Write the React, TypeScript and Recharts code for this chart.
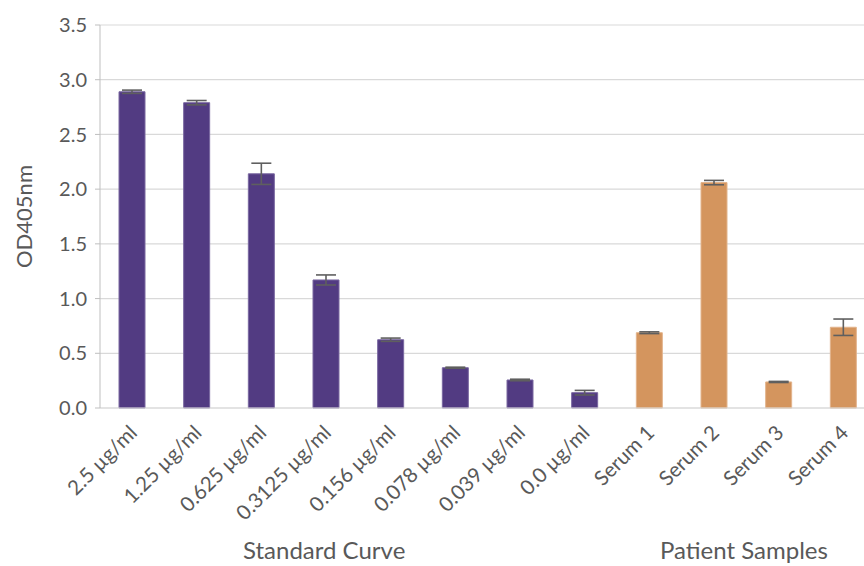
import React from "react";
import { BarChart, Bar, XAxis, YAxis, CartesianGrid, ErrorBar, Cell } from "recharts";

const categories = [
  "2.5 µg/ml", "1.25 µg/ml", "0.625 µg/ml", "0.3125 µg/ml", "0.156 µg/ml", "0.078 µg/ml",
  "0.039 µg/ml", "0.0 µg/ml", "Serum 1", "Serum 2", "Serum 3", "Serum 4",
];
const values = [2.89, 2.79, 2.14, 1.17, 0.624, 0.368, 0.256, 0.14, 0.688, 2.06, 0.238, 0.738];
const errors = [0.015, 0.02, 0.097, 0.046, 0.015, 0.005, 0.007, 0.021, 0.008, 0.02, 0.005, 0.075];
const groups = ["std", "std", "std", "std", "std", "std", "std", "std", "pat", "pat", "pat", "pat"];
const yTicks = [0, 0.5, 1.0, 1.5, 2.0, 2.5, 3.0, 3.5];
const groupLabels = ["Standard Curve", "Patient Samples"];

const colors: Record<string, string> = { std: "#523b82", pat: "#d4955e" };
const strokes: Record<string, string> = { std: "#7a68a0", pat: "#e2b48c" };

const data = categories.map((c, i) => ({ name: c, value: values[i], err: errors[i], group: groups[i] }));

const FONT = "Lato, 'Open Sans', sans-serif";
const TEXT = "#595959";

const XTick = (props: any) => {
  const { x, y, payload } = props;
  return (
    <g transform={`translate(${x + 6},${y + 18})`}>
      <text textAnchor="end" transform="rotate(-45)" fill={TEXT} fontSize={20.5} fontFamily={FONT}>
        {payload.value}
      </text>
    </g>
  );
};

export default function App() {
  return (
    <div style={{ position: "absolute", left: 0, top: 0, width: 864, height: 566, overflow: "hidden", background: "#fff" }}>
      <BarChart
        width={880}
        height={566}
        data={data}
        margin={{ top: 25, right: 4, left: 40, bottom: 0 }}
        barSize={26}
      >
        <CartesianGrid vertical={false} stroke="#d9d9d9" strokeWidth={1.2} />
        <XAxis
          dataKey="name"
          height={158}
          interval={0}
          tickLine={false}
          axisLine={{ stroke: "#d9d9d9", strokeWidth: 1.2 }}
          tick={<XTick />}
        />
        <YAxis
          width={60}
          domain={[0, 3.5]}
          ticks={yTicks}
          tickFormatter={(v: number) => v.toFixed(1)}
          axisLine={{ stroke: "#bfbfbf" }}
          tickLine={{ stroke: "#bfbfbf" }}
          tickSize={5}
          tickMargin={8}
          tick={{ fill: TEXT, fontSize: 20, fontFamily: FONT }}
          label={{ value: "OD405nm", angle: -90, position: "insideLeft", offset: -16, dy: 0, style: { fill: TEXT, fontSize: 22, fontFamily: FONT, textAnchor: "middle" } }}
        />
        <Bar dataKey="value" isAnimationActive={false} strokeWidth={1}>
          {data.map((d, i) => (
            <Cell key={i} fill={colors[d.group]} stroke={strokes[d.group]} />
          ))}
          <ErrorBar dataKey="err" width={10} stroke="#5f5f5f" strokeWidth={1.6} direction="y" />
        </Bar>
      </BarChart>
      <div style={{ position: "absolute", left: 243, top: 535, fontFamily: FONT, fontSize: 24, color: TEXT, whiteSpace: "nowrap" }}>
        {groupLabels[0]}
      </div>
      <div style={{ position: "absolute", left: 660, top: 535, fontFamily: FONT, fontSize: 24, color: TEXT, whiteSpace: "nowrap" }}>
        {groupLabels[1]}
      </div>
    </div>
  );
}
